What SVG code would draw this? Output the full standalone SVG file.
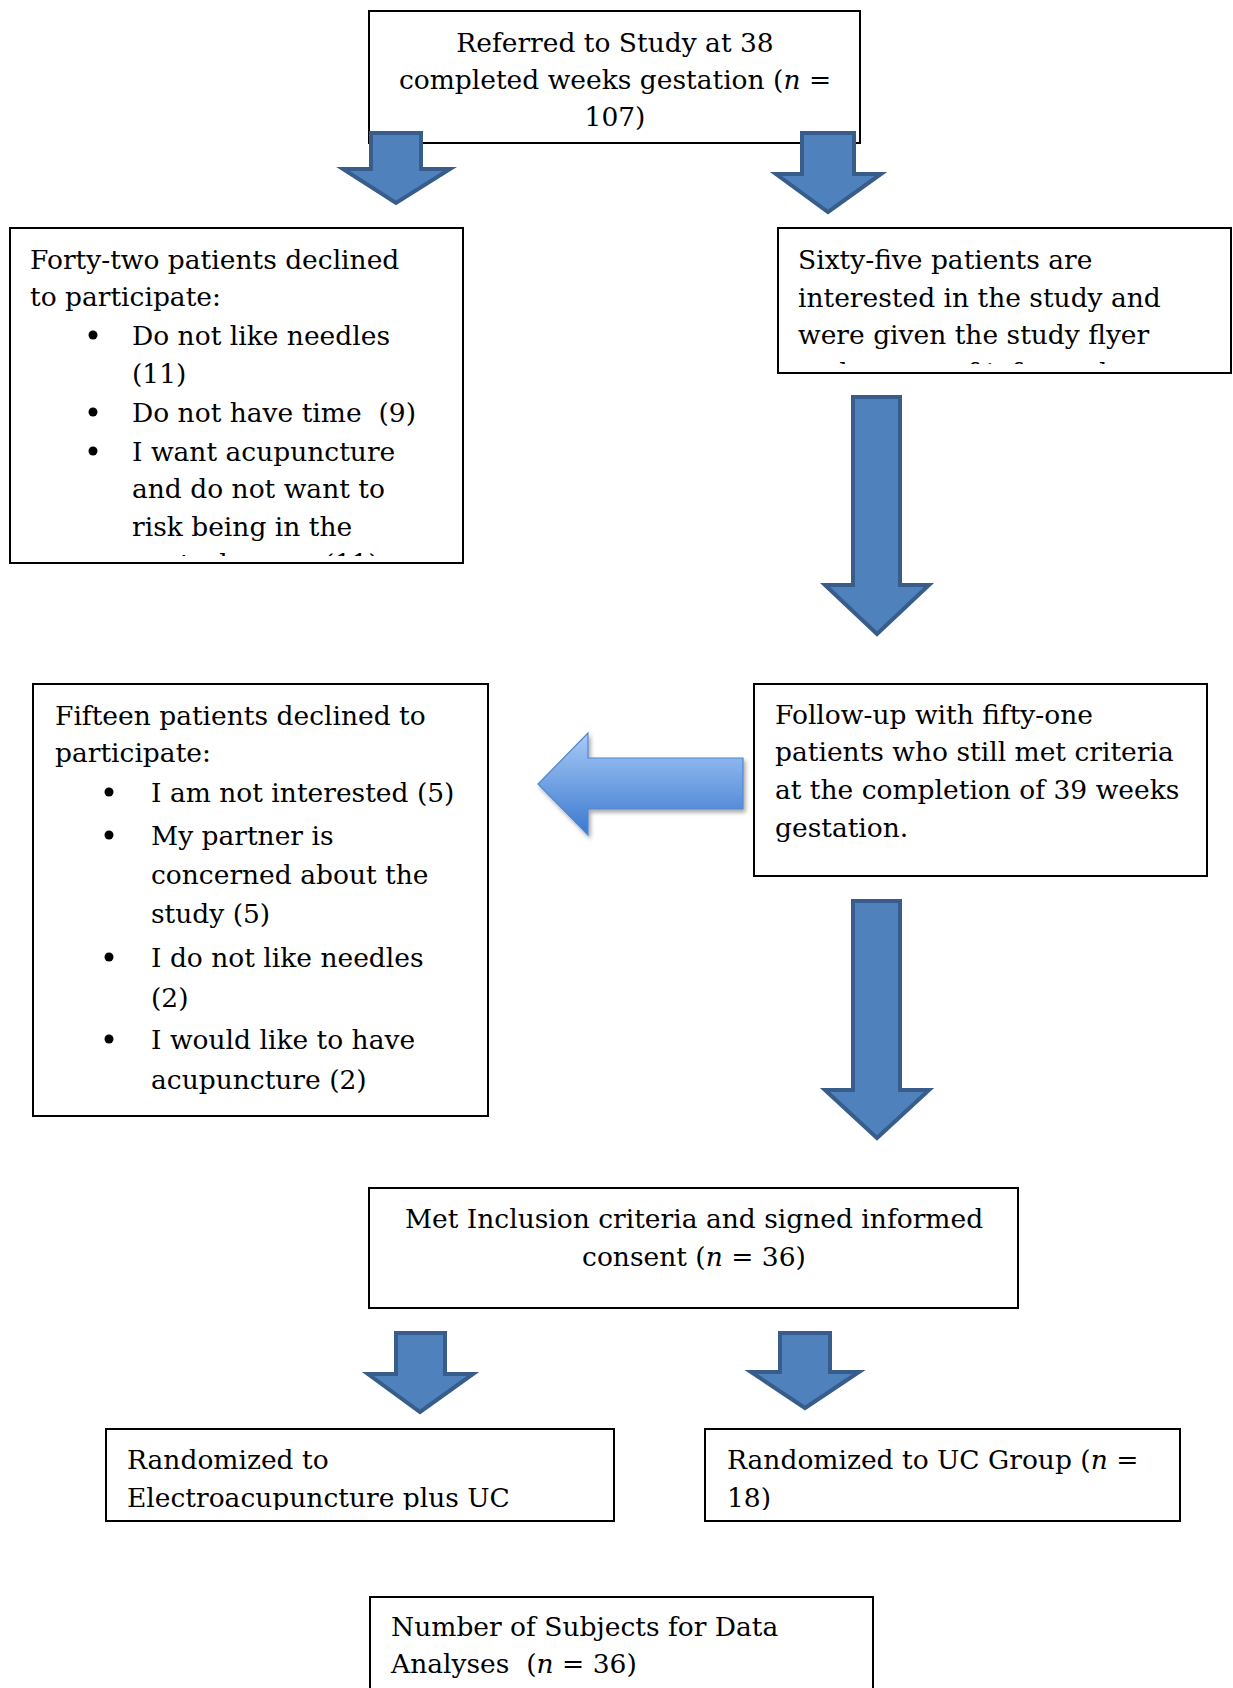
<svg xmlns="http://www.w3.org/2000/svg" width="1233" height="1688" viewBox="0 0 1233 1688">
<style>
.box{fill:#fff;stroke:#000;stroke-width:2}
.t{font-family:"DejaVu Serif","Liberation Serif",serif;font-size:26.5px;fill:#000}
.c{text-anchor:middle}
.i{font-style:italic}
.arrow{fill:#4F81BD;stroke:#385D8A;stroke-width:4;stroke-linejoin:miter}
.blt{fill:#000}
</style>
<defs>
<clipPath id="clip42"><rect x="10" y="228" width="453" height="328"/></clipPath>
<clipPath id="clip65"><rect x="778" y="228" width="453" height="136"/></clipPath>
<clipPath id="clipEA"><rect x="106" y="1429" width="508" height="81"/></clipPath>
<clipPath id="clipUC"><rect x="705" y="1429" width="475" height="81"/></clipPath>
<linearGradient id="gradL" x1="0" y1="0" x2="0" y2="1">
<stop offset="0" stop-color="#A8CAF7"/>
<stop offset="1" stop-color="#3A78CF"/>
</linearGradient>
<filter id="shadow" x="-10%" y="-10%" width="130%" height="140%">
<feGaussianBlur in="SourceAlpha" stdDeviation="2"/>
<feOffset dx="2" dy="3" result="b"/>
<feComponentTransfer><feFuncA type="linear" slope="0.35"/></feComponentTransfer>
<feMerge><feMergeNode/><feMergeNode in="SourceGraphic"/></feMerge>
</filter>
</defs>
<rect x="0" y="0" width="1233" height="1688" fill="#fff"/>

<g id="nodes">
<g id="node-referred">
<rect class="box" x="369" y="11" width="491" height="132"/>
<text class="t c" x="615" y="52">Referred to Study at 38</text>
<text class="t c" x="615" y="89">completed weeks gestation (<tspan class="i">n</tspan> =</text>
<text class="t c" x="615" y="126">107)</text>
</g>

<g id="node-declined42">
<rect class="box" x="10" y="228" width="453" height="335"/>
<g clip-path="url(#clip42)">
<text class="t" x="30" y="269">Forty-two patients declined</text>
<text class="t" x="30" y="306">to participate:</text>
<circle class="blt" cx="93" cy="335" r="4.5"/>
<text class="t" x="132" y="345">Do not like needles</text>
<text class="t" x="132" y="383">(11)</text>
<circle class="blt" cx="93" cy="412" r="4.5"/>
<text class="t" x="132" y="422" xml:space="preserve">Do not have time  (9)</text>
<circle class="blt" cx="93" cy="451" r="4.5"/>
<text class="t" x="132" y="461">I want acupuncture</text>
<text class="t" x="132" y="498">and do not want to</text>
<text class="t" x="132" y="536">risk being in the</text>
<text class="t" x="132" y="573">control group (11)</text>
</g>
</g>

<g id="node-interested65">
<rect class="box" x="778" y="228" width="453" height="145"/>
<g clip-path="url(#clip65)">
<text class="t" x="798" y="269">Sixty-five patients are</text>
<text class="t" x="798" y="307">interested in the study and</text>
<text class="t" x="798" y="344">were given the study flyer</text>
<text class="t" x="798" y="382">and a copy of informed</text>
</g>
</g>

<g id="node-declined15">
<rect class="box" x="33" y="684" width="455" height="432"/>
<text class="t" x="55" y="725">Fifteen patients declined to</text>
<text class="t" x="55" y="762">participate:</text>
<circle class="blt" cx="109" cy="792" r="4.5"/>
<text class="t" x="151" y="802">I am not interested (5)</text>
<circle class="blt" cx="109" cy="835" r="4.5"/>
<text class="t" x="151" y="845">My partner is</text>
<text class="t" x="151" y="884">concerned about the</text>
<text class="t" x="151" y="923">study (5)</text>
<circle class="blt" cx="109" cy="957" r="4.5"/>
<text class="t" x="151" y="967">I do not like needles</text>
<text class="t" x="151" y="1007">(2)</text>
<circle class="blt" cx="109" cy="1039" r="4.5"/>
<text class="t" x="151" y="1049">I would like to have</text>
<text class="t" x="151" y="1089">acupuncture (2)</text>
</g>

<g id="node-followup">
<rect class="box" x="754" y="684" width="453" height="192"/>
<text class="t" x="775" y="724">Follow-up with fifty-one</text>
<text class="t" x="775" y="761">patients who still met criteria</text>
<text class="t" x="775" y="799">at the completion of 39 weeks</text>
<text class="t" x="775" y="837">gestation.</text>
</g>

<g id="node-met">
<rect class="box" x="369" y="1188" width="649" height="120"/>
<text class="t c" x="694" y="1228">Met Inclusion criteria and signed informed</text>
<text class="t c" x="694" y="1266">consent (<tspan class="i">n</tspan> = 36)</text>
</g>

<g id="node-ea">
<rect class="box" x="106" y="1429" width="508" height="92"/>
<g clip-path="url(#clipEA)">
<text class="t" x="127" y="1469">Randomized to</text>
<text class="t" x="127" y="1507">Electroacupuncture plus UC</text>
</g>
</g>

<g id="node-uc">
<rect class="box" x="705" y="1429" width="475" height="92"/>
<g clip-path="url(#clipUC)">
<text class="t" x="727" y="1469">Randomized to UC Group (<tspan class="i">n</tspan> =</text>
<text class="t" x="727" y="1507">18)</text>
</g>
</g>

<g id="node-analyses">
<rect class="box" x="370" y="1597" width="503" height="120"/>
<text class="t" x="391" y="1636">Number of Subjects for Data</text>
<text class="t" x="391" y="1673" xml:space="preserve">Analyses  (<tspan class="i">n</tspan> = 36)</text>
</g>
</g>

<g id="connectors">
<path class="arrow" d="M371,133 H421 V169 H450 L396,203 L343,169 H371 Z"/>
<path class="arrow" d="M802,133 H854 V174 H881 L828,212 L776,174 H802 Z"/>
<path class="arrow" d="M853,397 H900 V585 H929 L877,634 L825,585 H853 Z"/>
<path class="arrow" d="M853,901 H900 V1090 H929 L877,1138 L825,1090 H853 Z"/>
<path class="arrow" d="M396,1333 H445 V1374 H473 L420,1412 L368,1374 H396 Z"/>
<path class="arrow" d="M780,1333 H830 V1372 H859 L805,1408 L751,1372 H780 Z"/>
<path d="M743,758 H588 V733 L538,784 L588,835 V809 H743 Z" fill="url(#gradL)" stroke="#4F86D0" stroke-width="1.2" filter="url(#shadow)"/>
</g>
</svg>
